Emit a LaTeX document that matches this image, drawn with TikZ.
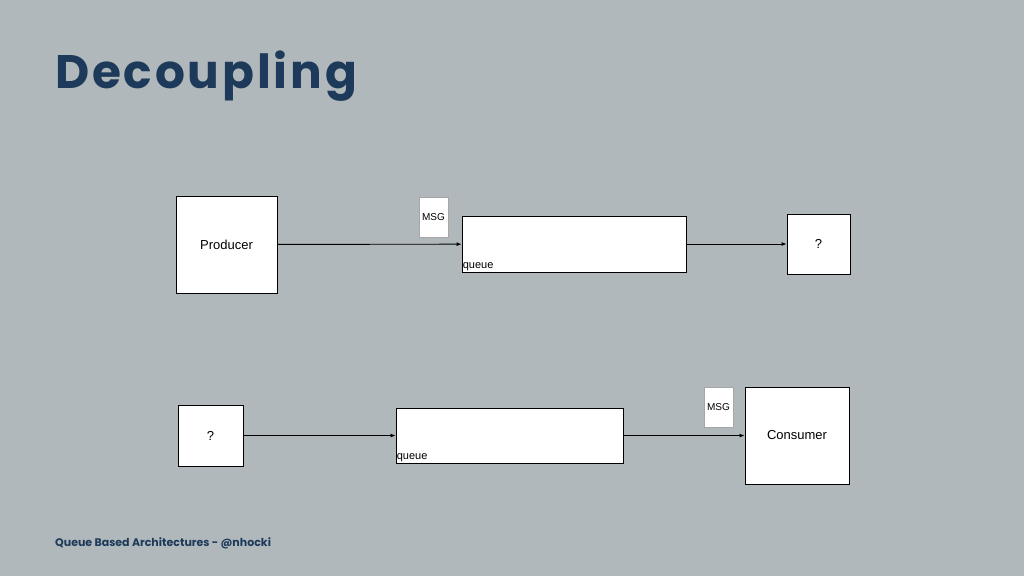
\documentclass[tikz,border=0pt]{standalone}
\usepackage{fontspec}
\setmainfont{Liberation Sans}
\newfontfamily\titlefont[LetterSpace=6]{Poppins}
\newfontfamily\footfont{Poppins}
\usetikzlibrary{arrows.meta}
\definecolor{slidebg}{HTML}{B0B8BB}
\definecolor{navy}{HTML}{1D3A5A}
\tikzset{
  box/.style={draw=black, fill=white, line width=0.8pt, inner sep=0pt},
  msgbox/.style={draw=gray!70, fill=white, line width=0.8pt, inner sep=0pt, minimum width=29pt, minimum height=40pt, font=\fontsize{10}{12}\selectfont},
  flow/.style={-{Latex[length=5pt,width=4pt]}, line width=0.9pt}
}
\begin{document}
\begin{tikzpicture}[x=1pt, y=-1pt]
\fill[slidebg] (0,0) rectangle (1024,576);
\useasboundingbox (0,0) rectangle (1024,576);

\node[anchor=base west, inner sep=0pt, text=navy, font=\titlefont\bfseries\fontsize{47}{56}\selectfont] (title) at (55,88) {Decoupling};

% top row
\node[box, minimum width=101pt, minimum height=97pt, font=\fontsize{13}{15}\selectfont] (producer) at (226.5,244.5) {Producer};
\node[msgbox] (msg1) at (433.5,217) {MSG};
\node[box, minimum width=224pt, minimum height=56pt] (queue1) at (574,244) {};
\node[anchor=south west, inner sep=1pt, font=\fontsize{11}{13}\selectfont] (qlabel1) at (queue1.south west) {queue};
\node[box, minimum width=63pt, minimum height=60pt, font=\fontsize{13}{15}\selectfont] (unknown1) at (818.5,244) {?};

% bottom row
\node[box, minimum width=65pt, minimum height=61pt, font=\fontsize{13}{15}\selectfont] (unknown2) at (210.5,435.5) {?};
\node[box, minimum width=227pt, minimum height=55pt] (queue2) at (509.5,435.5) {};
\node[anchor=south west, inner sep=1pt, font=\fontsize{11}{13}\selectfont] (qlabel2) at (queue2.south west) {queue};
\node[msgbox] (msg2) at (718.5,407) {MSG};
\node[box, minimum width=104pt, minimum height=97pt, font=\fontsize{13}{15}\selectfont] (consumer) at (797,435.5) {Consumer};

\draw[flow] (producer) -- (queue1);
\draw[flow] (queue1) -- (unknown1);
\draw[flow] (unknown2) -- (queue2);
\draw[flow] (queue2) -- (consumer);

\node[anchor=base west, inner sep=0pt, text=navy, font=\footfont\bfseries\fontsize{11}{13}\selectfont] (footer) at (55,546) {Queue Based Architectures - @nhocki};
\end{tikzpicture}
\end{document}
